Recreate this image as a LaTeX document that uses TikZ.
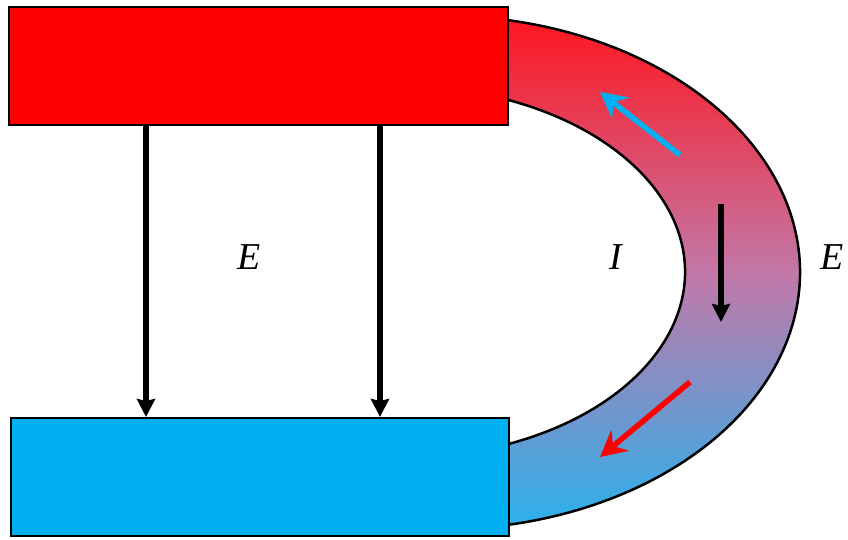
\documentclass[tikz,border=0pt]{standalone}
\usepackage{fontspec}
\setmainfont{Liberation Serif}
\usetikzlibrary{arrows.meta}
\definecolor{topred}{RGB}{255,22,32}
\definecolor{midpink}{RGB}{195,120,168}
\definecolor{botblue}{RGB}{44,176,236}
\definecolor{cyanfill}{RGB}{0,176,240}
\begin{document}
\begin{tikzpicture}[x=1pt,y=1pt,
  plate/.style={draw=black,line width=2pt,inner sep=0pt,anchor=south west},
  fieldarrow/.style={line width=5.5pt,-{Stealth[length=18pt,width=18pt,inset=2pt]}},
  bandarrow/.style={line width=5.5pt,-{Stealth[length=26pt,width=27pt,inset=9pt]}},
  lbl/.style={font=\fontsize{38}{40}\selectfont\itshape}]
\useasboundingbox (0,0) rectangle (848,539);
% band
\path[top color=topred, bottom color=botblue, middle color=midpink, draw=black, line width=2.5pt]
  (507,519) arc[start angle=79.27,end angle=-79.27,x radius=360,y radius=257]
  -- (507,94.6) arc[start angle=-67.95,end angle=67.95,x radius=285,y radius=186] -- cycle;
% plates
\node[plate,fill=red,minimum width=499pt,minimum height=118pt] (red) at (8,413) {};
\node[plate,fill=cyanfill,minimum width=498pt,minimum height=118pt] (blue) at (10,2) {};
% vertical arrows between plates
\coordinate (a1) at (146,0);
\coordinate (a2) at (380,0);
\draw[fieldarrow] (red.south -| a1) -- (blue.north -| a1);
\draw[fieldarrow] (red.south -| a2) -- (blue.north -| a2);
% arrows in band
\coordinate (c1s) at (680,384);
\coordinate (c1e) at (600,447);
\coordinate (c2s) at (721,335);
\coordinate (c2e) at (721,217);
\coordinate (c3s) at (690,157);
\coordinate (c3e) at (600,82);
\draw[bandarrow,draw=cyanfill,fill=cyanfill] (c1s) -- (c1e);
\draw[fieldarrow] (c2s) -- (c2e);
\draw[bandarrow,draw=red,fill=red] (c3s) -- (c3e);
% labels
\node[lbl] (e1) at (249,282) {E};
\node[lbl] (i1) at (616,282) {I};
\node[lbl] (e2) at (832,282) {E};
\end{tikzpicture}
\end{document}
